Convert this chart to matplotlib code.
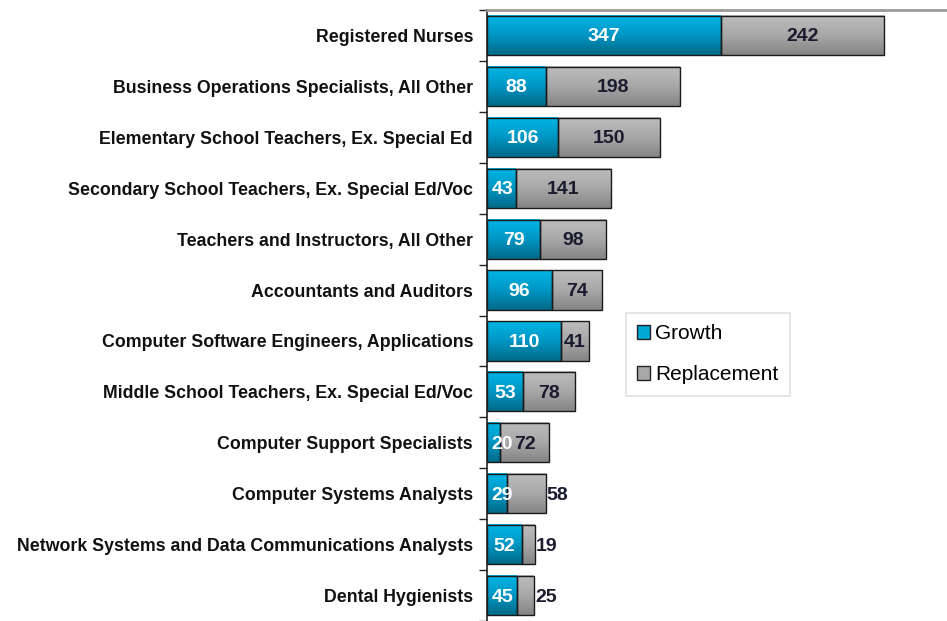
import matplotlib
matplotlib.use("Agg")
import matplotlib.pyplot as plt
import numpy as np
from matplotlib.patches import Patch
from matplotlib.colors import LinearSegmentedColormap

occupations = [
    "Registered Nurses",
    "Business Operations Specialists, All Other",
    "Elementary School Teachers, Ex. Special Ed",
    "Secondary School Teachers, Ex. Special Ed/Voc",
    "Teachers and Instructors, All Other",
    "Accountants and Auditors",
    "Computer Software Engineers, Applications",
    "Middle School Teachers, Ex. Special Ed/Voc",
    "Computer Support Specialists",
    "Computer Systems Analysts",
    "Network Systems and Data Communications Analysts",
    "Dental Hygienists",
]
growth = [347, 88, 106, 43, 79, 96, 110, 53, 20, 29, 52, 45]
replacement = [242, 198, 150, 141, 98, 74, 41, 78, 72, 58, 19, 25]
# replacement labels that sit just past the bar end instead of inside it
label_outside = [False] * 9 + [True, True, True]

FONT = ["Liberation Sans", "DejaVu Sans"]
W, H = 947, 621

fig = plt.figure(figsize=(W / 100, H / 100), dpi=100)
ax = fig.add_axes([487 / W, 0, 1 - 487 / W, (H - 10) / H])

n = len(occupations)
y = np.arange(n)
bar_h = 0.77

grow_cmap = LinearSegmentedColormap.from_list("g", ["#00b6e6", "#0096c4", "#006a88"])
repl_cmap = LinearSegmentedColormap.from_list("r", ["#bdbdbd", "#a8a8a8", "#858585"])
grad = np.linspace(0, 1, 64).reshape(-1, 1)


def gradient_bars(lefts, widths, cmap):
    for yi, l, w in zip(y, lefts, widths):
        ax.imshow(grad, cmap=cmap, aspect="auto", zorder=2,
                  extent=(l, l + w, yi + bar_h / 2, yi - bar_h / 2))


gradient_bars([0] * n, growth, grow_cmap)
gradient_bars(growth, replacement, repl_cmap)
ax.barh(y, growth, height=bar_h, facecolor="none", edgecolor="#1a1a1a", linewidth=1.0, zorder=3)
ax.barh(y, replacement, left=growth, height=bar_h, facecolor="none",
        edgecolor="#1a1a1a", linewidth=1.0, zorder=3)

val_kw = dict(va="center", fontsize=14, fontweight="bold", family=FONT, zorder=4)
for yi, g, r, out in zip(y, growth, replacement, label_outside):
    ax.text(max(g / 2, 23), yi + 0.03, str(g), ha="center", color="white", **val_kw)
    if out:
        ax.text(g + r + 1, yi + 0.03, str(r), ha="left", color="#1b1b2f", **val_kw)
    else:
        ax.text(g + r / 2, yi + 0.03, str(r), ha="center", color="#1b1b2f", **val_kw)

ax.set_xlim(0, 682)
ax.set_ylim(n - 0.54, -0.5)
ax.set_xticks([])
ax.set_yticks(y)
ax.set_yticklabels(occupations, family=FONT, fontweight="bold", fontsize=12.8, color="#111111")
ax.tick_params(axis="y", which="major", length=0, pad=10)
ax.set_yticks(np.arange(n + 1) - 0.5, minor=True)
ax.tick_params(axis="y", which="minor", length=6, width=1, color="#222222")

ax.spines["right"].set_visible(False)
ax.spines["bottom"].set_visible(False)
ax.spines["top"].set_color("#9a9a9a")
ax.spines["top"].set_linewidth(2)
ax.spines["left"].set_color("#222222")
ax.spines["left"].set_linewidth(1.2)

handles = [Patch(facecolor="#00a8d6", edgecolor="#222222"),
           Patch(facecolor="#a8a8a8", edgecolor="#222222")]
leg = fig.legend(handles, ["Growth", "Replacement"], loc="upper left",
                 bbox_to_anchor=(626 / W, 1 - 313 / H), frameon=True, fancybox=False,
                 prop={"family": FONT, "size": 15}, handlelength=0.6, handleheight=0.6,
                 handletextpad=0.25, labelspacing=1.05, borderpad=0.55, borderaxespad=0)
leg.get_frame().set_edgecolor("#d8d8d8")
leg.get_frame().set_linewidth(1.2)

fig.savefig("out.png", dpi=100, facecolor="white")
